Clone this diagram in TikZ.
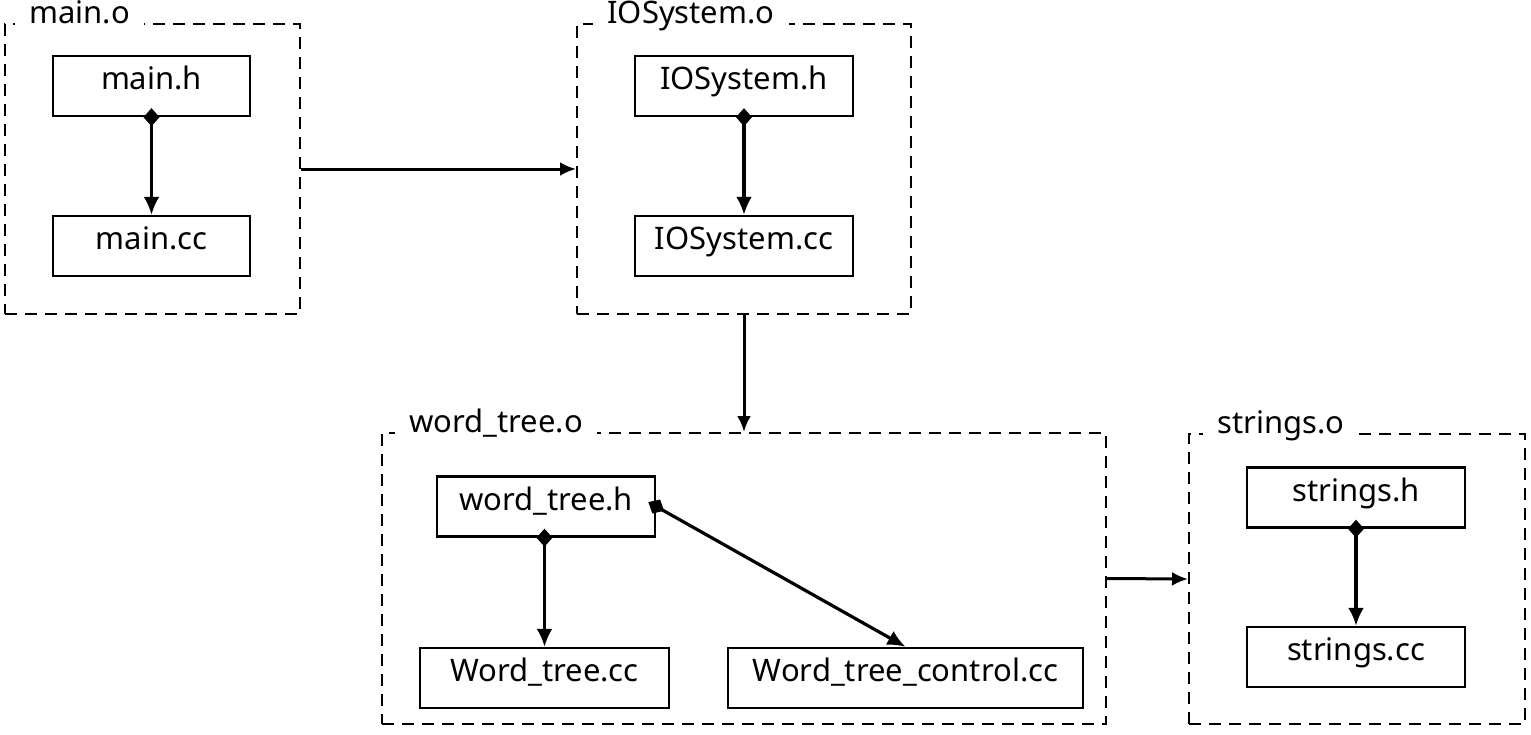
\documentclass[tikz,border=0pt]{standalone}
\usepackage{fontspec}
\setmainfont{Noto Sans}
\usepackage{tikz}
\tikzset{>=latex}
\usetikzlibrary{shapes,arrows,arrows.meta}
\usetikzlibrary{calc}

\tikzset{
	file/.style={draw, line width=1.2pt, minimum height=30pt, inner sep=0pt, text height=11.5pt, text depth=8pt, font=\fontsize{15.5}{18}\selectfont},
	group/.style={draw, dashed, dash pattern=on 6pt off 4pt, line width=1pt, inner sep=0pt},
	grouplabel/.style={fill=white, inner xsep=7pt, inner ysep=1pt, font=\fontsize{15.5}{18}\selectfont},
	dep/.style={{Diamond[length=9pt,width=8pt]}-{Latex[length=9pt,width=8pt]}, line width=1.6pt, shorten <=-4.5pt},
	link/.style={-{Latex[length=8pt,width=7pt]}, line width=1.5pt}
}

\begin{document}
\begin{tikzpicture}[line cap=butt,line join=miter,x=0.5pt,y=-0.5pt]
			\useasboundingbox (0,0) rectangle (1531,734);
			% object files
			\node[group, minimum width=147.5pt, minimum height=145pt] (maino) at (152.5,169) {};
			\node[group, minimum width=167pt, minimum height=145pt] (iosyso) at (744,169) {};
			\node[group, minimum width=362pt, minimum height=145.5pt] (wordtreeo) at (744,578.5) {};
			\node[group, minimum width=168pt, minimum height=145pt] (stringso) at (1357,579) {};
			\node[grouplabel, anchor=base west] (mainolabel) at ($(maino.north west)+(11,0)$) {main.o};
			\node[grouplabel, anchor=base west] (iosysolabel) at ($(iosyso.north west)+(17,0)$) {IOSystem.o};
			\node[grouplabel, anchor=base west] (wordtreeolabel) at ($(wordtreeo.north west)+(14,0)$) {word\_tree.o};
			\node[grouplabel, anchor=base west] (stringsolabel) at ($(stringso.north west)+(15,0)$) {strings.o};
			% sources
			\node[file, minimum width=98.5pt] (mainh) at (151.5,86) {main.h};
			\node[file, minimum width=98.5pt] (maincc) at (151.5,246) {main.cc};
			\node[file, minimum width=109pt] (iosysh) at (744,86) {IOSystem.h};
			\node[file, minimum width=109pt] (iosyscc) at (744,246) {IOSystem.cc};
			\node[file, minimum width=109pt] (wordtreeh) at (546,506.5) {word\_tree.h};
			\node[file, minimum width=124.5pt] (wordtreecc) at (544.5,678) {Word\_tree.cc};
			\node[file, minimum width=177.5pt] (wordtreectl) at (905.5,678) {Word\_tree\_control.cc};
			\node[file, minimum width=109pt] (stringsh) at (1356,497.5) {strings.h};
			\node[file, minimum width=109pt] (stringscc) at (1356,657) {strings.cc};
			% dependencies
			\draw[dep] (mainh) -- (maincc);
			\draw[dep] (iosysh) -- (iosyscc);
			\draw[dep] (wordtreeh.south -| wordtreecc.north) -- (wordtreecc.north);
			\draw[dep] (wordtreeh.east) -- (wordtreectl.north);
			\draw[dep] (stringsh) -- (stringscc);
			\draw[link] (maino.east) -- (iosyso.west);
			\draw[link] (iosyso.south) -- (wordtreeo.north);
			\draw[link] (wordtreeo.east) -- (stringso.west);
\end{tikzpicture}
\end{document}
